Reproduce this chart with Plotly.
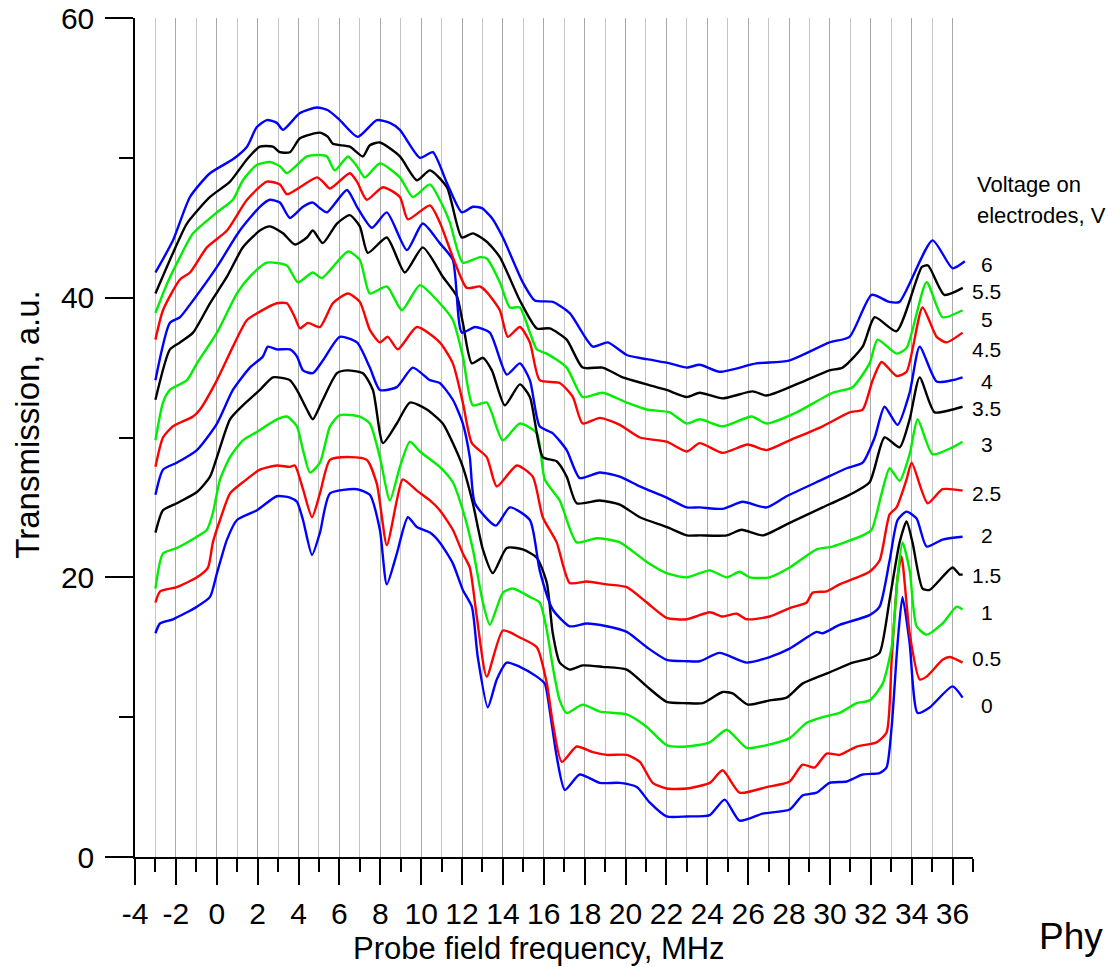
import plotly.graph_objects as go

# ---- data: (frequency MHz, transmission a.u.) ----
v0_pts = [(-3.0,16.0),(-2.78,16.7),(-2.14,17.0),(-0.97,17.9),(-0.33,18.6),(0.01,20.3),(0.5,22.7),(0.99,24.1),
          (1.97,24.8),(2.94,25.8),(3.58,25.7),(3.92,25.4),(4.22,24.1),(4.66,21.6),(5.05,23.2),(5.54,26.0),
          (6.86,26.3),(7.49,25.9),(7.98,23.4),(8.32,19.5),(8.81,21.7),(9.35,24.3),(9.79,23.6),(10.43,23.2),
          (10.91,22.5),(11.55,21.0),(12.04,19.1),(12.48,17.9),(12.77,14.3),(13.26,10.7),(13.7,12.7),(14.19,13.9),
          (14.83,13.6),(15.66,12.9),(16.05,12.4),(16.29,10.5),(16.63,7.2),(17.03,4.8),(17.76,5.9),(18.74,5.3),
          (19.72,5.3),(20.55,5.0),(21.18,3.9),(22.01,2.9),(23.0,2.9),(24.12,3.0),(24.85,4.1),(25.58,2.6),
          (26.71,3.1),(28.03,3.4),(28.66,4.4),(29.35,4.6),(29.98,5.3),(30.82,5.4),(31.6,5.9),(32.43,6.0),
          (32.77,6.4),(33.02,9.3),(33.31,15.3),(33.55,18.6),(33.9,15.3),(34.29,10.3),(34.88,10.7),(36.0,12.2),
          (36.49,11.4)]
v05_pts = [(-3.0,18.2),(-2.77,19.0),(-1.95,19.3),(-0.97,20.0),(-0.43,20.7),(-0.19,22.5),(0.16,24.1),(0.65,26.0),
           (1.28,26.8),(2.11,27.7),(2.94,28.0),(3.58,27.9),(3.82,28.0),(4.22,26.3),(4.66,24.3),(5.05,26.0),
           (5.54,28.4),(6.51,28.6),(7.34,28.4),(7.83,26.7),(8.32,22.3),(8.81,25.5),(9.1,27.0),(9.79,26.2),
           (10.43,25.5),(10.91,24.8),(11.55,23.4),(12.04,21.7),(12.38,20.7),(12.72,17.2),(13.21,12.9),(14.0,16.2),
           (14.83,15.7),(15.66,15.0),(16.15,12.4),(16.44,9.6),(16.88,6.8),(17.61,7.9),(18.4,7.5),(19.08,7.3),
           (20.06,7.3),(20.7,6.8),(21.33,5.3),(22.01,4.9),(23.0,4.9),(24.12,5.3),(24.75,6.2),(25.58,4.6),
           (26.9,5.0),(28.03,5.4),(28.66,6.6),(29.25,6.4),(29.84,7.4),(30.47,7.3),(31.31,7.9),(32.28,8.2),
           (32.77,8.9),(33.02,14.1),(33.31,20.0),(33.5,21.5),(33.9,16.0),(34.39,12.7),(34.73,12.9),(35.51,14.1),
           (35.85,14.3),(36.49,13.9)]
v1_pts = [(-3.0,19.2),(-2.63,21.7),(-1.95,22.1),(-0.97,22.9),(-0.48,23.4),(-0.19,24.6),(0.16,27.0),(0.65,28.6),
          (1.28,29.8),(1.97,30.4),(2.94,31.3),(3.43,31.5),(3.92,30.8),(4.22,29.1),(4.56,27.5),(5.05,28.2),
          (5.54,30.8),(6.02,31.6),(7.0,31.5),(7.49,31.0),(7.98,28.6),(8.47,25.5),(8.96,27.9),(9.45,29.7),
          (9.94,29.0),(10.91,27.9),(11.55,26.8),(12.04,24.8),(12.53,22.0),(13.02,18.2),(13.36,16.6),(14.0,18.9),
          (14.48,19.2),(15.32,18.6),(15.8,18.2),(16.15,16.2),(16.44,13.6),(16.78,11.2),(17.12,10.3),(17.9,10.9),
          (18.74,10.4),(20.06,10.2),(21.04,9.3),(22.01,8.0),(23.0,7.9),(24.12,8.2),(24.95,9.1),(25.93,7.8),
          (26.9,8.0),(28.03,8.5),(28.86,9.6),(29.64,10.0),(30.47,10.3),(31.31,11.0),(31.94,11.2),(32.58,12.4),
          (33.02,15.0),(33.31,20.0),(33.55,22.5),(33.9,20.5),(34.24,16.5),(34.73,15.9),(35.51,16.7),(36.2,17.9),
          (36.49,17.7)]
v15_pts = [(-3.0,23.2),(-2.63,24.8),(-1.95,25.3),(-0.97,26.1),(-0.33,27.2),(0.01,28.6),(0.65,31.3),(1.28,32.3),
           (2.11,33.4),(2.75,34.3),(3.58,34.1),(3.92,33.4),(4.41,32.0),(4.7,31.3),(5.19,32.7),(5.88,34.6),
           (6.37,34.8),(7.15,34.6),(7.64,33.4),(8.13,29.6),(8.81,31.0),(9.45,32.5),(10.28,32.0),(11.06,31.0),
           (11.55,29.6),(12.04,27.9),(12.53,25.3),(13.02,22.0),(13.51,20.3),(14.19,22.1),(14.97,22.0),(15.66,21.4),
           (16.15,19.6),(16.44,16.0),(16.78,13.9),(17.27,13.4),(17.9,13.7),(18.88,13.6),(20.06,13.4),(21.04,12.2),
           (22.01,11.1),(23.0,11.0),(23.78,11.0),(24.75,11.8),(25.24,11.7),(25.98,10.9),(27.05,11.2),(27.88,11.4),
           (28.66,12.4),(29.98,13.2),(31.11,13.9),(31.94,14.2),(32.43,14.6),(32.92,18.4),(33.41,22.5),(33.75,24.0),
           (34.04,22.5),(34.53,19.2),(34.88,19.1),(36.0,20.7),(36.34,20.2),(36.49,20.2)]
v2_pts = [(-3.0,25.9),(-2.63,27.7),(-1.95,28.2),(-0.97,29.1),(0.01,31.0),(0.79,33.4),(1.62,35.0),(2.26,35.8),
          (2.5,36.5),(2.94,36.3),(3.58,36.3),(3.92,35.8),(4.22,34.8),(4.7,34.6),(5.19,35.5),(6.02,37.2),
          (6.86,36.8),(7.49,35.0),(7.98,33.4),(8.81,33.6),(9.59,35.0),(10.43,34.1),(10.91,33.9),(11.55,32.7),
          (12.04,31.0),(12.38,28.6),(12.63,25.3),(13.65,23.7),(14.34,25.0),(15.32,24.1),(15.8,20.5),(16.44,17.7),
          (17.27,16.5),(18.1,16.7),(19.08,16.5),(20.06,16.1),(21.04,15.0),(22.01,14.1),(23.0,14.0),(23.63,14.0),
          (24.6,14.6),(25.93,13.9),(27.05,14.3),(28.03,14.9),(29.35,16.1),(29.64,16.0),(30.47,16.6),(31.94,17.3),
          (32.43,17.9),(32.92,21.2),(33.31,24.1),(33.75,24.7),(34.24,24.2),(34.73,22.2),(35.51,22.7),(36.49,22.9)]
v25_pts = [(-3.0,27.9),(-2.63,30.0),(-2.14,30.8),(-1.16,31.5),(-0.82,32.0),(0.01,34.1),(0.79,36.5),(1.48,38.4),
           (2.11,39.0),(2.94,39.6),(3.43,39.6),(3.82,38.6),(4.07,37.8),(4.46,38.2),(5.05,37.9),(5.68,39.6),
           (6.42,40.3),(7.0,39.7),(7.49,37.7),(7.98,36.8),(8.37,37.2),(8.86,36.3),(9.79,37.9),(10.91,36.8),
           (11.55,35.3),(12.04,32.5),(12.48,29.6),(13.21,28.6),(13.7,26.5),(14.68,28.0),(15.46,27.2),(15.95,24.3),
           (16.63,22.5),(17.27,19.6),(18.1,19.7),(19.08,19.5),(20.06,19.3),(21.04,18.2),(22.01,17.1),(23.0,17.0),
           (24.12,17.5),(24.75,17.2),(25.44,17.4),(25.93,17.0),(27.05,17.2),(28.03,17.8),(28.86,18.2),(29.15,18.9),
           (29.84,19.0),(30.47,19.5),(31.94,20.4),(32.43,21.2),(32.92,24.5),(33.26,25.0),(33.75,27.0),(34.0,28.2),
           (34.78,25.3),(35.51,26.3),(36.49,26.2)]
v3_pts = [(-3.0,29.8),(-2.63,32.5),(-2.29,33.4),(-1.46,34.1),(-0.97,35.3),(0.01,37.5),(0.99,40.3),(1.62,41.5),
          (2.45,42.5),(3.43,42.3),(3.97,41.1),(4.7,41.8),(5.14,41.4),(6.42,43.3),(7.0,42.7),(7.49,40.3),
          (8.32,40.8),(9.06,39.1),(9.94,40.9),(10.91,39.6),(11.55,38.4),(12.04,35.8),(12.53,32.3),(13.21,32.5),
          (13.99,29.8),(14.83,31.0),(15.66,30.3),(16.05,27.0),(16.78,25.5),(17.61,22.5),(18.59,22.8),(19.72,22.5),
          (21.04,21.1),(22.01,20.3),(23.0,20.0),(24.12,20.5),(24.95,20.0),(25.58,20.4),(26.07,20.0),(27.05,20.0),
          (28.03,20.7),(29.35,22.0),(30.13,22.2),(31.6,23.0),(32.04,23.4),(32.53,26.0),(32.92,27.8),(33.41,26.9),
          (33.9,28.8),(34.29,31.3),(35.02,28.8),(36.0,29.3),(36.49,29.7)]
v35_pts = [(-3.0,32.7),(-2.29,36.3),(-1.8,36.8),(-1.16,37.5),(-0.33,39.6),(0.5,41.5),(1.28,43.6),(2.11,44.8),
           (2.6,45.1),(3.24,44.6),(3.82,43.8),(4.41,44.3),(4.7,44.8),(5.19,43.9),(5.88,45.3),(6.51,45.9),
           (7.0,45.1),(7.39,43.2),(8.32,44.3),(9.2,41.8),(10.08,43.6),(11.06,41.5),(11.75,40.1),(12.04,38.2),
           (12.48,35.3),(13.02,35.7),(13.46,34.8),(14.09,32.3),(14.83,33.8),(15.32,32.9),(15.95,28.6),(16.63,28.3),
           (17.12,27.2),(17.61,25.3),(18.74,25.5),(19.72,25.2),(20.7,24.3),(22.01,23.6),(23.0,23.0),(23.63,23.0),
           (24.95,23.0),(25.68,23.4),(26.71,23.0),(28.03,23.9),(29.64,25.0),(30.96,25.9),(31.94,26.8),(32.67,30.0),
           (33.41,29.3),(33.9,31.3),(34.39,34.3),(35.12,31.8),(36.0,32.0),(36.49,32.2)]
v4_pts = [(-3.0,34.1),(-2.29,38.2),(-1.8,38.6),(-1.16,39.8),(0.01,42.2),(1.13,44.8),(2.11,46.5),(2.6,47.0),
          (3.09,46.8),(3.58,45.7),(4.22,46.5),(4.7,46.8),(5.05,46.4),(5.39,46.1),(6.37,47.7),(6.86,46.5),
          (7.59,45.0),(8.32,46.1),(9.3,43.4),(10.08,45.3),(10.91,43.9),(11.55,42.7),(11.99,37.5),(12.63,37.9),
          (13.36,37.5),(14.19,34.5),(14.83,35.3),(15.32,34.1),(15.8,30.8),(16.44,30.3),(17.12,29.1),(17.76,27.1),
          (18.74,27.5),(19.72,27.2),(20.7,26.5),(22.01,25.7),(23.0,25.0),(23.63,25.0),(24.75,24.9),(25.73,25.4),
          (26.9,25.0),(27.88,25.8),(29.64,27.0),(30.82,27.8),(31.6,28.2),(32.19,30.0),(32.67,32.2),(33.31,30.9),
          (33.9,33.2),(34.39,36.5),(35.22,34.0),(36.0,34.1),(36.49,34.3)]
v45_pts = [(-3.0,37.0),(-2.63,39.1),(-1.8,41.3),(-1.31,41.8),(-0.48,43.6),(0.5,44.8),(1.48,47.0),(2.45,48.3),
           (3.09,48.1),(3.43,47.4),(4.07,47.9),(4.9,48.6),(5.19,48.3),(5.54,47.8),(6.51,48.9),(6.86,48.3),
           (7.34,47.0),(8.13,47.9),(8.96,47.2),(9.35,45.6),(10.43,46.6),(10.91,45.4),(11.55,42.9),(12.23,40.7),
           (12.87,40.8),(13.21,40.4),(13.85,39.1),(14.24,37.2),(14.83,37.9),(15.32,36.8),(15.8,34.1),(16.78,33.9),
           (17.42,32.9),(17.9,31.0),(18.74,31.4),(19.72,30.9),(20.7,30.0),(22.01,29.7),(23.0,29.0),(23.63,29.6),
           (24.75,28.9),(25.98,29.5),(26.9,29.1),(28.03,29.8),(29.64,30.8),(30.96,31.8),(31.6,32.0),(32.09,34.1),
           (32.53,35.4),(33.26,34.4),(33.75,34.7),(34.53,39.3),(35.22,37.2),(35.7,36.8),(36.49,37.5)]
v5_pts = [(-3.0,38.9),(-2.4,41.1),(-1.8,42.9),(-1.16,44.6),(0.01,46.1),(0.79,47.0),(1.28,48.4),(1.97,49.5),
          (2.6,49.7),(3.09,49.4),(3.43,48.9),(4.41,50.1),(5.05,50.2),(5.39,50.1),(5.78,49.1),(6.42,50.1),
          (6.86,49.4),(7.25,48.6),(7.98,49.6),(8.96,48.6),(9.59,47.2),(10.43,48.1),(10.91,47.0),(11.4,45.4),
          (12.04,42.5),(12.87,42.9),(13.21,42.8),(13.85,41.1),(14.34,39.3),(14.83,39.3),(15.32,37.5),(15.66,36.3),
          (16.15,36.0),(17.12,35.0),(17.9,32.9),(18.88,33.2),(20.06,32.5),(21.04,32.0),(22.16,31.8),(23.0,31.0),
          (23.63,31.3),(24.75,30.8),(26.17,31.5),(26.9,31.0),(28.37,31.8),(30.13,33.2),(31.11,33.6),(31.94,35.3),
          (32.33,37.0),(33.26,36.0),(33.75,36.4),(34.73,41.1),(35.51,38.6),(36.49,39.1)]
v55_pts = [(-3.0,40.3),(-2.14,43.2),(-1.46,45.3),(-0.33,47.2),(0.65,48.3),(1.48,49.9),(2.11,50.8),(2.75,50.8),
           (3.09,50.4),(3.58,50.4),(4.07,51.4),(5.05,51.8),(5.44,51.5),(5.68,51.0),(6.51,50.8),(7.15,50.1),
           (7.49,50.9),(7.98,51.1),(8.96,50.1),(9.79,48.4),(10.43,49.1),(11.26,47.9),(11.99,44.3),(12.53,44.6),
           (13.21,44.0),(13.85,42.9),(14.83,39.8),(15.66,37.8),(16.29,37.8),(17.12,37.0),(17.9,35.0),(18.88,35.0),
           (19.86,34.3),(21.04,33.8),(22.01,33.4),(23.0,32.9),(23.63,33.2),(24.75,32.8),(26.22,33.3),(26.9,33.0),
           (28.52,33.9),(29.98,34.8),(30.62,35.0),(31.6,36.5),(32.19,38.6),(33.26,37.6),(34.5,42.2),(34.8,42.3),
           (35.6,40.2),(36.5,40.7)]
v6_pts = [(-3.0,41.8),(-2.14,44.1),(-1.31,47.2),(-0.33,48.9),(0.79,49.9),(1.48,50.8),(1.96,52.2),(2.45,52.7),
          (2.94,52.5),(3.24,52.0),(4.07,53.2),(4.9,53.6),(5.44,53.4),(6.02,52.7),(6.9,51.5),(7.83,52.7),
          (8.47,52.5),(8.96,52.0),(9.94,50.0),(10.57,50.4),(11.26,48.2),(11.99,46.1),(12.53,46.5),(12.97,46.4),
          (13.46,45.7),(14.0,44.3),(14.97,41.1),(15.56,39.8),(16.44,39.7),(17.27,38.9),(18.4,36.5),(19.13,36.8),
          (20.06,35.9),(21.04,35.6),(22.16,35.3),(23.0,35.0),(23.63,35.2),(24.6,34.7),(26.4,35.3),(28.0,35.5),
          (29.98,36.8),(30.96,37.2),(32.04,40.2),(32.9,39.7),(33.4,39.7),(35.02,44.1),(36.0,42.1),(36.6,42.6)]

voltages = ["0", "0.5", "1", "1.5", "2", "2.5", "3", "3.5", "4", "4.5", "5", "5.5", "6"]
curves = [v0_pts, v05_pts, v1_pts, v15_pts, v2_pts, v25_pts, v3_pts, v35_pts,
          v4_pts, v45_pts, v5_pts, v55_pts, v6_pts]
colors = ["#0000ff", "#ff0000", "#00ee00", "#000000"] * 4
label_y = [10.8, 14.2, 17.5, 20.1, 23.0, 26.0, 29.5, 32.1, 34.0, 36.3, 38.45, 40.45, 42.4]

x_tickvals = list(range(-4, 37, 2))
x_ticktext = [str(v) for v in x_tickvals]   # plain hyphen-minus as in the original
y_tickvals = [0, 20, 40, 60]
y_ticktext = ["0", "20", "40", "60"]

FONT = "Liberation Sans, Arial, sans-serif"

fig = go.Figure()
for i, (v, pts) in enumerate(zip(voltages, curves)):
    xs = [p[0] for p in pts]
    ys = [p[1] for p in pts]
    fig.add_trace(go.Scatter(x=xs, y=ys, mode="lines", name=v + " V",
                             line=dict(color=colors[i], width=2.4, shape="spline", smoothing=0.6),
                             hoverinfo="skip"))

annotations = []
for v, ly in zip(voltages, label_y):
    annotations.append(dict(x=1.0167, xref="paper", y=ly, yref="y", text=v, showarrow=False,
                            xanchor="center", yanchor="middle", borderpad=0,
                            font=dict(size=21, color="black", family=FONT)))
annotations += [
    dict(x=1.0024, xref="paper", y=0.801, yref="paper", text="Voltage on", showarrow=False,
         xanchor="left", yanchor="middle", font=dict(size=22, color="black", family=FONT)),
    dict(x=1.0024, xref="paper", y=0.765, yref="paper", text="electrodes, V", showarrow=False,
         xanchor="left", yanchor="middle", font=dict(size=22, color="black", family=FONT)),
    dict(x=0.482, xref="paper", y=-0.1085, yref="paper", text="Probe field frequency, MHz", showarrow=False,
         xanchor="center", yanchor="middle", font=dict(size=31, color="black", family=FONT)),
    dict(x=-0.128, xref="paper", y=0.515, yref="paper", text="Transmission, a.u.", showarrow=False,
         textangle=-90, xanchor="center", yanchor="middle", font=dict(size=33, color="black", family=FONT)),
    dict(x=1.0764, xref="paper", y=-0.095, yref="paper", text="Phy", showarrow=False,
         xanchor="left", yanchor="middle", font=dict(size=37, color="black", family=FONT)),
]

fig.update_layout(
    width=1114, height=967,
    margin=dict(l=135, r=141, t=18, b=110, autoexpand=False),
    plot_bgcolor="white", paper_bgcolor="white",
    showlegend=False,
    font=dict(family=FONT, color="black"),
    annotations=annotations,
    xaxis=dict(range=[-4, 37], tickmode="array", tickvals=x_tickvals, ticktext=x_ticktext,
               ticks="outside", ticklen=26, tickwidth=1.5, tickcolor="black", automargin=False,
               ticklabelstandoff=3,
               showline=True, linecolor="black", linewidth=1.5,
               showgrid=True, gridcolor="#a8a8a8", gridwidth=1, zeroline=False,
               tickfont=dict(size=30, family=FONT, color="black"),
               minor=dict(dtick=1, tick0=-4, ticks="outside", ticklen=13, tickwidth=1.5,
                          tickcolor="black", showgrid=True, gridcolor="#c4c4c4", gridwidth=1)),
    yaxis=dict(range=[0, 60], tickmode="array", tickvals=y_tickvals, ticktext=y_ticktext,
               ticks="outside", ticklen=28, tickwidth=1.5, tickcolor="black", automargin=False,
               ticklabelstandoff=5,
               showline=True, linecolor="black", linewidth=1.5,
               showgrid=False, zeroline=False,
               tickfont=dict(size=30, family=FONT, color="black"),
               minor=dict(dtick=10, tick0=0, ticks="outside", ticklen=14, tickwidth=1.5, tickcolor="black")),
)

fig.write_html("out.html")
